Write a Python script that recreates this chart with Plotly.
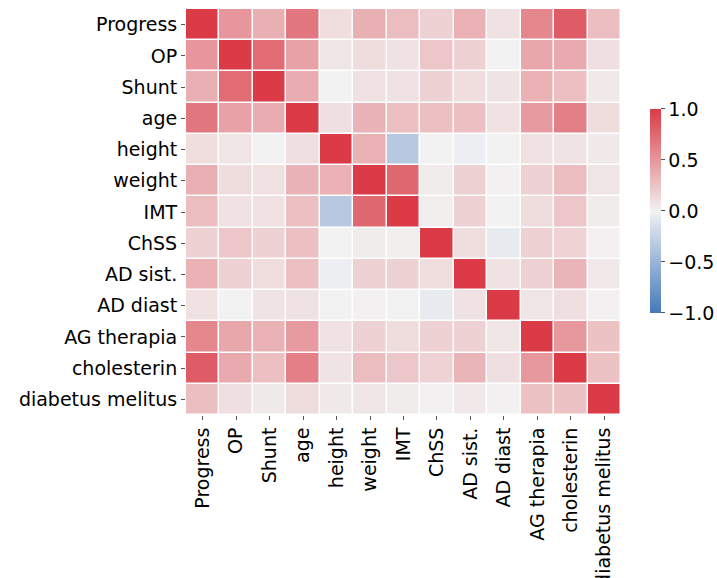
import math
import plotly.graph_objects as go

# Variables of the correlation matrix (same order on both axes)
labels = ["Progress", "OP", "Shunt", "age", "height", "weight", "IMT",
          "ChSS", "AD sist.", "AD diast", "AG therapia", "cholesterin",
          "diabetus melitus"]

# Pairwise correlation coefficients, one row per variable
r_progress = [1.00, 0.50, 0.36, 0.67, 0.11, 0.36, 0.29, 0.18, 0.35, 0.09, 0.58, 0.82, 0.28]
r_op       = [0.50, 1.00, 0.73, 0.44, 0.07, 0.12, 0.09, 0.24, 0.18, 0.00, 0.41, 0.39, 0.10]
r_shunt    = [0.36, 0.73, 1.00, 0.38, 0.00, 0.09, 0.09, 0.18, 0.11, 0.08, 0.35, 0.27, 0.04]
r_age      = [0.67, 0.44, 0.38, 1.00, 0.10, 0.34, 0.27, 0.27, 0.27, 0.09, 0.48, 0.62, 0.12]
r_height   = [0.11, 0.07, 0.00, 0.10, 1.00, 0.35, -0.34, 0.00, -0.03, 0.00, 0.09, 0.08, 0.04]
r_weight   = [0.36, 0.12, 0.09, 0.34, 0.35, 1.00, 0.75, 0.03, 0.18, 0.01, 0.18, 0.29, 0.07]
r_imt      = [0.29, 0.09, 0.09, 0.27, -0.34, 0.75, 1.00, 0.02, 0.18, 0.00, 0.12, 0.24, 0.03]
r_chss     = [0.18, 0.24, 0.18, 0.27, 0.00, 0.03, 0.02, 1.00, 0.11, -0.06, 0.18, 0.17, 0.01]
r_ad_sist  = [0.35, 0.18, 0.11, 0.27, -0.03, 0.18, 0.18, 0.11, 1.00, 0.09, 0.18, 0.33, 0.05]
r_ad_diast = [0.09, 0.00, 0.08, 0.09, 0.00, 0.01, 0.00, -0.06, 0.09, 1.00, 0.07, 0.10, 0.01]
r_ag       = [0.58, 0.41, 0.35, 0.48, 0.09, 0.18, 0.12, 0.18, 0.18, 0.07, 1.00, 0.49, 0.26]
r_chol     = [0.82, 0.39, 0.27, 0.62, 0.08, 0.29, 0.24, 0.17, 0.33, 0.10, 0.49, 1.00, 0.26]
r_diab     = [0.28, 0.10, 0.04, 0.12, 0.04, 0.07, 0.03, 0.01, 0.05, 0.01, 0.26, 0.26, 1.00]

corr = [r_progress, r_op, r_shunt, r_age, r_height, r_weight, r_imt,
        r_chss, r_ad_sist, r_ad_diast, r_ag, r_chol, r_diab]

cbar_vals = [-1.0, -0.5, 0.0, 0.5, 1.0]
cbar_text = ["\u22121.0", "\u22120.5", "0.0", "0.5", "1.0"]


# --- HUSL colour conversion, used to build a diverging blue-grey-red scale ---
_M = [[3.2406, -1.5372, -0.4986],
      [-0.9689, 1.8758, 0.0415],
      [0.0557, -0.2040, 1.0570]]
_REF_U, _REF_V = 0.19784, 0.46834
_LAB_E, _LAB_K = 0.008856, 903.3


def _max_chroma(L, H):
    hrad = math.radians(H)
    sinH, cosH = math.sin(hrad), math.cos(hrad)
    sub1 = (L + 16) ** 3 / 1560896.0
    sub2 = sub1 if sub1 > _LAB_E else L / _LAB_K
    result = float("inf")
    for m1, m2, m3 in _M:
        top = (0.99915 * m1 + 1.05122 * m2 + 1.14460 * m3) * sub2
        rbottom = 0.86330 * m3 - 0.17266 * m2
        lbottom = 0.12949 * m3 - 0.38848 * m1
        bottom = (rbottom * sinH + lbottom * cosH) * sub2
        for t in (0.0, 1.0):
            C = L * (top - 1.05122 * t) / (bottom + 0.17266 * sinH * t)
            if 0 < C < result:
                result = C
    return result


def _from_linear(c):
    if c <= 0.0031308:
        return 12.92 * c
    return 1.055 * c ** (1 / 2.4) - 0.055


def husl_to_rgb(h, s, l):
    C = _max_chroma(l, h) / 100.0 * s
    U = C * math.cos(math.radians(h))
    V = C * math.sin(math.radians(h))
    Y = ((l + 16) / 116.0) ** 3 if l > 8 else l / _LAB_K
    varU = U / (13 * l) + _REF_U
    varV = V / (13 * l) + _REF_V
    X = -(9 * Y * varU) / ((varU - 4) * varV - varU * varV)
    Z = (9 * Y - 15 * varV * Y - varV * X) / (3 * varV)
    rgb = []
    for row in _M:
        v = _from_linear(row[0] * X + row[1] * Y + row[2] * Z)
        rgb.append(min(max(v, 0.0), 1.0))
    return rgb


def css(rgb):
    return "rgb(%d,%d,%d)" % tuple(round(255 * c) for c in rgb)


h_neg, h_pos, sat, lum = 250, 10, 75, 50
blue_end = husl_to_rgb(h_neg, sat, lum)
blue_light = husl_to_rgb(h_neg, 0.15 * sat, 95)
red_end = husl_to_rgb(h_pos, sat, lum)
red_light = husl_to_rgb(h_pos, 0.15 * sat, 95)
mid = [0.95, 0.95, 0.95]

colorscale = [
    [0.0, css(blue_end)],
    [127 / 256, css(blue_light)],
    [0.5, css(mid)],
    [129 / 256, css(red_light)],
    [1.0, css(red_end)],
]

font = "DejaVu Sans"
fsize = 19

fig = go.Figure(
    go.Heatmap(
        z=corr,
        x=labels,
        y=labels,
        zmin=-1,
        zmax=1,
        colorscale=colorscale,
        xgap=1.5,
        ygap=1.5,
        hoverongaps=False,
        colorbar=dict(
            thickness=11,
            len=0.502,
            lenmode="fraction",
            x=1.0667,
            xanchor="left",
            xpad=0,
            y=0.5025,
            yanchor="middle",
            ypad=0,
            outlinewidth=0,
            tickmode="array",
            tickvals=cbar_vals,
            ticktext=cbar_text,
            ticks="outside",
            ticklen=4,
            tickwidth=1,
            tickcolor="#555",
            tickfont=dict(family=font, size=fsize, color="black"),
        ),
    )
)

axis_style = dict(
    ticks="outside",
    ticklen=4,
    tickwidth=1,
    tickcolor="#555",
    showgrid=False,
    zeroline=False,
    showline=False,
    automargin=False,
    tickfont=dict(family=font, size=fsize, color="black"),
)

fig.update_layout(
    width=717,
    height=578,
    margin=dict(l=186, r=96, t=9, b=163, autoexpand=False),
    paper_bgcolor="white",
    plot_bgcolor="white",
    font=dict(family=font, size=fsize, color="black"),
    xaxis=dict(tickangle=-90, **axis_style),
    yaxis=dict(autorange="reversed", **axis_style),
)

fig.write_html("out.html")
